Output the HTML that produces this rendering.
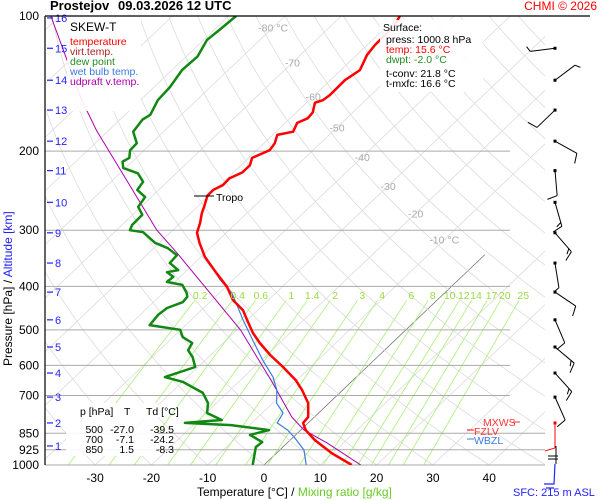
<!DOCTYPE html>
<html><head><meta charset="utf-8">
<style>
html,body{margin:0;padding:0;background:#fff;}
svg{display:block;font-family:"Liberation Sans",sans-serif;}
</style></head>
<body>
<svg id="chart" width="600" height="500" viewBox="0 0 600 500" xmlns="http://www.w3.org/2000/svg">
<defs><clipPath id="plotclip"><rect x="45" y="16" width="500" height="449"/></clipPath></defs>
<rect x="0" y="0" width="600" height="500" fill="#ffffff"/>
<g id="grid" clip-path="url(#plotclip)"></g>
<g id="plines"></g>
<g id="series" clip-path="url(#plotclip)"></g>
<g id="winds"></g>
<g id="labels"></g>
<text x="50" y="10" font-size="13" font-weight="bold">Prostejov</text>
<text x="118" y="10" font-size="13" font-weight="bold">09.03.2026 12 UTC</text>
<text x="597" y="10" font-size="12" fill="#ff0000" text-anchor="end">CHMI © 2026</text>
<line x1="45" y1="16" x2="590" y2="16" stroke="#000" stroke-width="1.2"/>
<line x1="45" y1="16" x2="45" y2="465" stroke="#000" stroke-width="1.2"/>
<g>
<rect x="67" y="17" width="74" height="94" fill="#fff" opacity="0.9"/>
<text x="70" y="31" font-size="12" fill="#000">SKEW-T</text>
<text x="70" y="45" font-size="10.5" fill="#ff0000">temperature</text>
<text x="70" y="55" font-size="10.5" fill="#aa2222">virt.temp.</text>
<text x="70" y="65" font-size="10.5" fill="#228b22">dew point</text>
<text x="70" y="75" font-size="10.5" fill="#3a7be0">wet bulb temp.</text>
<text x="70" y="85" font-size="10.5" fill="#aa00aa">udpraft v.temp.</text>
</g>
<g>
<rect x="380" y="20" width="103" height="72" fill="#fff" opacity="0.9"/>
<text x="383" y="31" font-size="10.5">Surface:</text>
<text x="386" y="43" font-size="10.5">press: 1000.8 hPa</text>
<text x="386" y="53" font-size="10.5" fill="#ff0000">temp: 15.6 °C</text>
<text x="386" y="63" font-size="10.5" fill="#228b22">dwpt: -2.0 °C</text>
<text x="386" y="77" font-size="10.5">t-conv: 21.8 °C</text>
<text x="386" y="87" font-size="10.5">t-mxfc: 16.6 °C</text>
</g>
<g>
<rect x="66" y="403" width="92" height="53" fill="#fff" opacity="0.9"/>
<text x="80" y="415" font-size="10.5">p [hPa]</text>
<text x="124" y="415" font-size="10.5">T</text>
<text x="146" y="415" font-size="10.5">Td [°C]</text>
<text x="103" y="433" font-size="10.5" text-anchor="end">500</text>
<text x="134" y="433" font-size="10.5" text-anchor="end">-27.0</text>
<text x="174" y="433" font-size="10.5" text-anchor="end">-39.5</text>
<text x="103" y="443" font-size="10.5" text-anchor="end">700</text>
<text x="134" y="443" font-size="10.5" text-anchor="end">-7.1</text>
<text x="174" y="443" font-size="10.5" text-anchor="end">-24.2</text>
<text x="103" y="453" font-size="10.5" text-anchor="end">850</text>
<text x="134" y="453" font-size="10.5" text-anchor="end">1.5</text>
<text x="174" y="453" font-size="10.5" text-anchor="end">-8.3</text>
</g>
<g>
<text x="483" y="426" font-size="10.5" fill="#ff3333">MXWS</text>
<line x1="513" y1="422" x2="520" y2="422" stroke="#ff3333"/>
<line x1="467" y1="430" x2="474" y2="430" stroke="#ff0000"/>
<text x="474" y="435" font-size="10.5" fill="#ff3333">FZLV</text>
<line x1="467" y1="439" x2="474" y2="439" stroke="#3a7be0"/>
<text x="474" y="444" font-size="10.5" fill="#3a7be0">WBZL</text>
</g>
<g>
<line x1="194" y1="196" x2="214" y2="196" stroke="#000"/>
<text x="216" y="201" font-size="10.5">Tropo</text>
</g>
<text x="197" y="496" font-size="12">Temperature [°C]  / <tspan fill="#66cc22">Mixing ratio [g/kg]</tspan></text>
<text transform="translate(12,366) rotate(-90)" font-size="12">Pressure [hPa]  /  <tspan fill="#2222ff">Altitude [km]</tspan></text>
<text x="513" y="496" font-size="11" fill="#2222ff">SFC: 215 m ASL</text>

<script>
// ---- data ----
const tempP = [1000,940,880,836,806,782,728,681,647,605,569,535,508,475,452,429,401,374,344,320,304,289,275,266,251,244,238,230,223,215,207,199,192,184,181,173,169,164,156,154,150,139,132,122,116,110,105,100];
const tempT = [15.6,9.7,4.4,0.9,-0.9,-1.1,-3.7,-7.2,-10.2,-14.9,-19.4,-23.5,-26.6,-30.1,-32.6,-36.3,-39.8,-44.2,-49.3,-52.9,-55.2,-56.5,-58.0,-58.8,-60.3,-60.3,-59.5,-59.6,-58.4,-58.4,-59.4,-57.7,-58.1,-59.2,-57.0,-57.9,-56.9,-57.1,-58.5,-57.6,-57.3,-57.4,-56.6,-58.2,-58.6,-58.7,-58.8,-59.6];
const dewP = [1000,912,889,857,836,815,806,794,766,728,691,653,637,605,575,555,535,519,500,488,463,447,434,422,414,397,391,381,372,368,355,341,329,320,303,300,292,277,266,253,244,234,224,218,211,207,199,192,181,170,166,154,144,132,123,113,108,100];
const dewT = [-2.0,-4.8,-4.6,-8.1,-5.6,-13.3,-21.9,-15.9,-19.8,-21.5,-24.3,-29.9,-34.0,-30.5,-32.8,-34.9,-35.5,-38.3,-40.1,-46.4,-46.8,-46.5,-44.8,-45.0,-45.8,-48.1,-51.4,-51.2,-53.2,-51.6,-54.4,-54.6,-57.5,-60.8,-64.9,-67.6,-68.2,-68.3,-70.5,-71.1,-73.8,-74.3,-76.8,-80.4,-81.7,-81.2,-82.5,-82.6,-85.4,-86.0,-85.5,-86.9,-87.2,-88.2,-88.0,-89.4,-89.1,-88.7];
const wetP = [1000,926,866,836,806,766,728,681,637,584,527,475,445,414,387,355,344];
const wetT = [7.5,4.3,0.1,-2.3,-5.5,-6.3,-9.3,-11.7,-14.8,-19.8,-25.3,-30.8,-34.1,-37.8,-42.3,-47.3,-49.3];
const parcelP = [1000,893,836,782,647,500,337,300,180,154,100];
const parcelT = [17.2,7.1,0.6,-4.0,-14.6,-29.4,-55.0,-62.8,-92.1,-100.4,-121.6];
const pLevels = [100,200,300,400,500,600,700,850,925,1000];
const tempTicks = [-30,-20,-10,0,10,20,30,40];
const isoLabels = [-80,-70,-60,-50,-40,-30,-20,-10];
const isoLabelP = [106,127,151,177,206,239,275,315];
const mixRatios = [0.2,0.4,0.6,1,1.4,2,3,4,6,8,10,12,14,17,20,25];
const kmLevels = [16,15,14,13,12,11,10,9,8,7,6,5,4,3,2,1];
const kmPress = [101,118,139,162,190,221,260,304,355,412,475,546,624,706,806,907];
const windP = [118,139,162,190,221,260,304,355,412,475,546,624,706,806];
const windDir = [263,53,226,119,175,164,139,171,124,157,130,138,156,180];
const windSpd = [5,5,10,10,10,15,15,5,10,10,15,15,10,10];

// ---- scales ----
const Y = p => 465 - 449*Math.log10(1000/p);
const X = (t,p) => 264 + 5.63*t + 1.05*(465 - Y(p));
const NS = "http://www.w3.org/2000/svg";
function mk(tag, parent, attrs){const e=document.createElementNS(NS,tag);for(const k in attrs)e.setAttribute(k,attrs[k]);parent.appendChild(e);return e;}
const grid=document.getElementById('grid'), series=document.getElementById('series'), labels=document.getElementById('labels'), plines=document.getElementById('plines'), winds=document.getElementById('winds');

// isotherms
for(let t=-160;t<=50;t+=10){
  const top = t===0 ? 340 : 100;
  const l=mk('line',grid,{x1:X(t,1050),y1:Y(1050),x2:X(t,top),y2:Y(top),stroke:t===0?'#777':'#dcdcdc','stroke-width':0.8});
  
  
}
// dry adiabats
for(let th=-40;th<=220;th+=10){
  let d='';
  for(let p=1050;p>=100;p-=10){const T=(th+273.15)*Math.pow(p/1000,0.286)-273.15;d+=(d?'L':'M')+X(T,p).toFixed(1)+','+Y(p).toFixed(1);}
  const a=mk('path',grid,{d:d,fill:'none',stroke:'#dcdcdc','stroke-width':0.8});
  
  
}
// mixing ratio lines
function tdFromW(w,p){const e=w*p/(622+w);const L=Math.log(e/6.112);return 243.5*L/(17.67-L);}
mixRatios.forEach(w=>{
  const l=mk('line',grid,{x1:X(tdFromW(w,1000),1000),y1:Y(1000),x2:X(tdFromW(w,430),430),y2:Y(430),stroke:'#aaee77','stroke-width':0.8});
  
  
  const tx=mk('text',labels,{x:X(tdFromW(w,415),415),y:299,'font-size':10.5,fill:'#99dd44','text-anchor':'middle'});
  tx.textContent=String(w);
  
  
});
// pressure lines and labels
pLevels.forEach(p=>{
  if(p!==100){
    const l=mk('line',plines,{x1:45,y1:Y(p),x2:(p>=850?545:510),y2:Y(p),stroke:'#aaaaaa','stroke-width':1});
    
    
  }
  const tx=mk('text',labels,{x:39,y:Y(p)+4,'font-size':12,'text-anchor':'end'});
  tx.textContent=String(p);
  
  
});
// temperature ticks
tempTicks.forEach(t=>{
  const tx=mk('text',labels,{x:X(t,1000),y:482,'font-size':12,'text-anchor':'middle'});
  tx.textContent=String(t);
  
  
});
// isotherm labels
isoLabels.forEach((t,i)=>{
  const pp=isoLabelP[i];
  const tx=mk('text',labels,{x:X(t,pp),y:Y(pp)+4,'font-size':10.5,fill:'#aaaaaa','text-anchor':'middle'});
  tx.textContent=(t===-80||t===-10)?(t+' °C'):String(t);
  
  
});
// km labels
kmLevels.forEach((k,i)=>{
  const y=Y(kmPress[i]);
  const l=mk('line',labels,{x1:47,y1:y,x2:53,y2:y,stroke:'#2222ff','stroke-width':1.2});
  
  
  const tx=mk('text',labels,{x:55,y:y+4,'font-size':11,fill:'#2222ff'});
  tx.textContent=String(k);
  
  
});
// series
function line(P,T,color,w,name){
  const d=P.map((p,i)=>(i?'L':'M')+X(T[i],p).toFixed(1)+','+Y(p).toFixed(1)).join('');
  const e=mk('path',series,{d:d,fill:'none',stroke:color,'stroke-width':w,'stroke-linejoin':'round'});
  
  
}
line(parcelP,parcelT,'#aa00aa',1,'updraft-line');
line(wetP,wetT,'#3a7be0',1.2,'wet-bulb-line');
line(dewP,dewT,'#118811',2.5,'dew-point-line');
line(tempP,tempT,'#ff0000',2.5,'temperature-line');
// winds
windP.forEach((p,i)=>{
  const y=Y(p), x=555;
  const a=windDir[i]*Math.PI/180, L=25;
  const dx=Math.sin(a), dy=-Math.cos(a);
  const ex=x+dx*L, ey=y+dy*L;
  const col=(p>=780)?'#ff0000':'#000';
  const s=mk('line',winds,{x1:x,y1:y,x2:ex,y2:ey,stroke:col,'stroke-width':1});
  
  
  const px=-dy, py=dx;
  let n=Math.round(windSpd[i]/5), pos=0;
  while(n>0){
    const bx=ex-dx*pos*4, by=ey-dy*pos*4;
    const len=n>=2?10:5;
    const b=mk('line',winds,{x1:bx,y1:by,x2:bx+px*len+dx*3,y2:by+py*len+dy*3,stroke:col,'stroke-width':1});
    
    
    n-=(n>=2?2:1); pos++;
  }
  const dot=mk('rect',winds,{x:x-1.5,y:y-1.5,width:3,height:3,fill:col});
  
  
});
// lower surface winds
const sw2=mk('path',winds,{d:'M556,446 L556,464 M548,456 L558,456 M548,459 L558,459',stroke:'#000',fill:'none','stroke-width':1});


const sw=mk('path',winds,{d:'M555,464 L554,484 L544,484 M546,488 L554,488',stroke:'#2222ff',fill:'none','stroke-width':1.2});


</script>
</svg>
</body></html>
